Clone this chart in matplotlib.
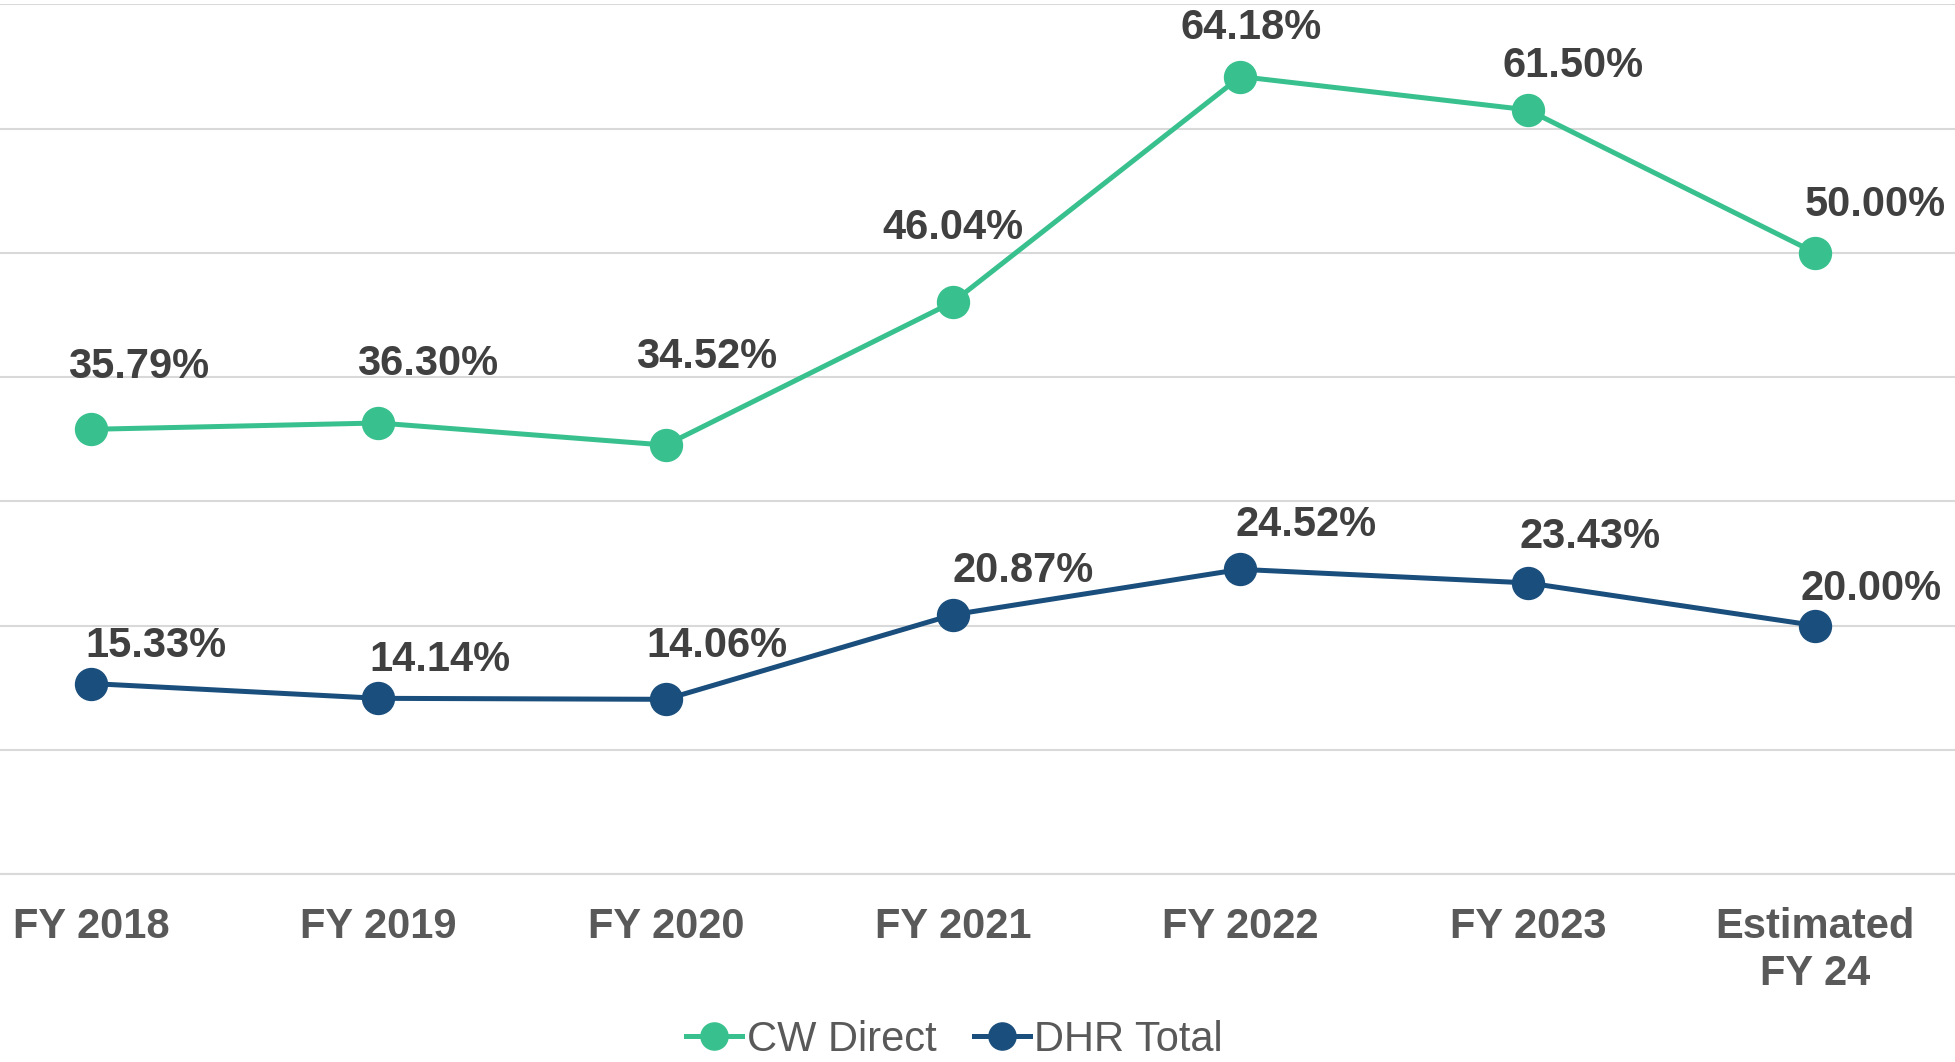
import matplotlib.pyplot as plt

plt.rcParams['font.family'] = ['Liberation Sans', 'DejaVu Sans']

# data
years = ['FY 2018', 'FY 2019', 'FY 2020', 'FY 2021', 'FY 2022', 'FY 2023', 'Estimated\nFY 24']
cw_direct = [35.79, 36.30, 34.52, 46.04, 64.18, 61.50, 50.00]
dhr_total = [15.33, 14.14, 14.06, 20.87, 24.52, 23.43, 20.00]

green = '#38C18E'
navy = '#1A4E7C'

# label offsets in pixels (dx, dy) relative to each point
cw_offsets = [(48, 62), (49, 59), (41, 88), (0, 74), (11, 49), (45, 44), (60, 48)]
dhr_offsets = [(65, 38), (61, 38), (51, 53), (70, 44), (66, 44), (62, 46), (56, 37)]

fig = plt.figure(figsize=(19.56, 10.62), dpi=100)
ax = fig.add_axes([0, 0.177, 1, 0.819])

x = list(range(len(years)))
ax.plot(x, cw_direct, color=green, lw=3.6, marker='o', ms=23, label='CW Direct', zorder=3)
ax.plot(x, dhr_total, color=navy, lw=3.6, marker='o', ms=23, label='DHR Total', zorder=3)

for i, v in enumerate(cw_direct):
    ax.annotate(f'{v:.2f}%', (i, v), xytext=cw_offsets[i], textcoords='offset pixels',
                ha='center', va='center', fontsize=30, fontweight='bold', color='#404040')
for i, v in enumerate(dhr_total):
    ax.annotate(f'{v:.2f}%', (i, v), xytext=dhr_offsets[i], textcoords='offset pixels',
                ha='center', va='center', fontsize=30, fontweight='bold', color='#404040')

ax.set_xlim(-0.317, 6.49)
ax.set_ylim(0, 70)
ax.set_yticks(range(0, 71, 10))
ax.yaxis.grid(True, color='#d9d9d9', lw=1.5)
ax.set_axisbelow(True)
ax.tick_params(axis='y', left=False, labelleft=False)
ax.tick_params(axis='x', length=0, pad=24)
ax.set_xticks(x)
ax.set_xticklabels(years, fontsize=30, fontweight='bold', color='#595959')
for s in ['top', 'left', 'right']:
    ax.spines[s].set_visible(False)
ax.spines['bottom'].set_color('#d9d9d9')
ax.spines['bottom'].set_linewidth(1.5)

fig.legend(loc='center', bbox_to_anchor=(0.488, 0.021), ncol=2, frameon=False,
           fontsize=30, labelcolor='#595959', handlelength=1.35, handletextpad=0.1,
           columnspacing=0.9, markerscale=0.85, borderaxespad=0, borderpad=0)

fig.savefig('out.png', dpi=100)
